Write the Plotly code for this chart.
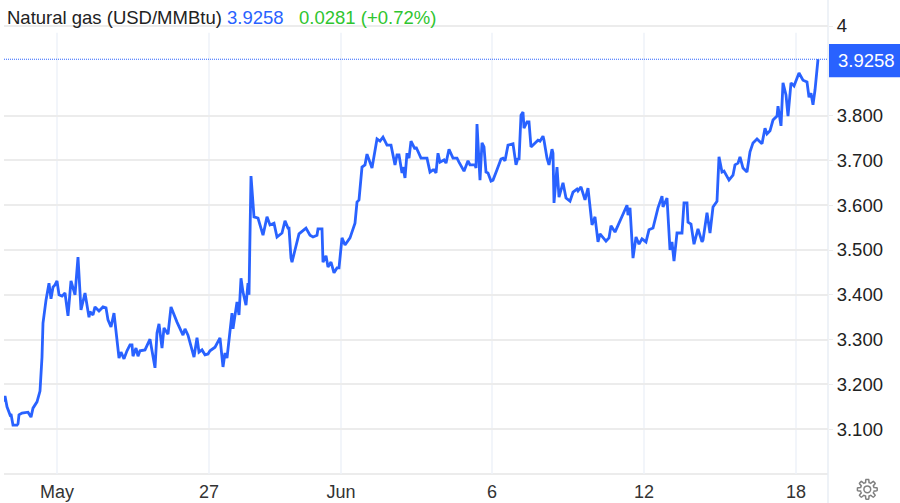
import numpy as np
import plotly.graph_objects as go

title_text = "Natural gas (USD/MMBtu)"
last_price = 3.9258
change_text = "0.0281 (+0.72%)"

time_step = [4,5,7,10,11,13,17,18,19,22,28,31,33,37,40,42,43,46,49,51,53,55,57,59,62,65,68,71,75,78,81,85,89,90,93,95,99,103,106,108,111,114,119,
121,124,127,130,132,133,136,138,140,145,150,155,157,159,162,164,168,171,174,177,183,185,188,194,197,199,202,205,208,210,215,220,223,225,227,232,233,237,239,241,243,246,248,249,
251,254,258,263,267,270,274,277,282,285,288,289,291,292,295,299,306,310,313,317,318,322,323,326,328,331,334,337,339,342,345,350,355,357,359,362,365,367,372,377,380,383,387,391,395,397,399,
402,403,405,407,409,411,415,416,421,427,430,433,434,436,438,440,444,446,449,453,457,459,464,468,470,475,476,477,480,482,484,486,488,491,493,497,501,503,505,508,513,516,518,519,521,523,524,527,529,531,535,538,540,543,544,547,549,552,553,554,557,559,563,566,570,573,577,578,581,585,588,
592,595,598,600,603,606,609,611,615,623,627,628,630,633,636,639,642,646,649,653,657,658,662,663,667,670,672,674,677,682,684,687,688,691,694,698,702,703,707,710,713,717,719,722,724,729,733,735,738,740,743,745,747,750,753,757,762,765,767,770,773,777,778,781,783,786,788,791,794,799,803,807,809,811,813,815,818]

price = [3.161,3.174,3.150,3.132,3.134,3.109,3.109,3.112,3.132,3.136,3.138,3.127,3.147,3.161,3.185,3.261,3.337,3.388,3.426,3.391,3.417,3.422,3.431,3.400,3.397,3.404,3.353,3.431,3.400,3.484,3.366,3.404,3.350,3.362,3.355,3.373,3.364,3.373,3.371,3.344,3.328,3.359,3.259,
3.272,3.257,3.275,3.288,3.288,3.263,3.281,3.263,3.275,3.277,3.301,3.237,3.315,3.335,3.281,3.326,3.312,3.373,3.355,3.339,3.310,3.324,3.310,3.261,3.304,3.272,3.277,3.266,3.268,3.275,3.283,3.304,3.239,3.270,3.259,3.359,3.324,3.384,3.355,3.437,3.406,3.377,3.426,3.400,
3.665,3.574,3.571,3.533,3.574,3.556,3.560,3.529,3.538,3.565,3.549,3.549,3.482,3.473,3.500,3.536,3.549,3.533,3.529,3.533,3.547,3.547,3.473,3.487,3.462,3.473,3.449,3.460,3.460,3.527,3.511,3.527,3.560,3.607,3.612,3.685,3.690,3.714,3.683,3.748,3.743,3.752,3.734,3.734,3.690,3.712,3.712,
3.672,3.685,3.661,3.716,3.705,3.743,3.725,3.730,3.705,3.705,3.674,3.679,3.679,3.672,3.716,3.696,3.701,3.694,3.725,3.705,3.705,3.696,3.676,3.699,3.690,3.690,3.683,3.781,3.656,3.739,3.730,3.674,3.672,3.654,3.656,3.679,3.703,3.705,3.699,3.734,3.737,3.690,3.705,3.701,3.801,3.808,3.772,3.786,3.786,3.730,3.739,3.745,3.743,3.754,3.745,3.705,3.690,3.725,3.716,3.605,3.685,3.618,3.650,3.616,3.609,3.629,3.636,3.632,3.641,3.612,3.638,
3.556,3.574,3.518,3.536,3.527,3.520,3.527,3.554,3.540,3.578,3.600,3.578,3.594,3.482,3.529,3.513,3.525,3.518,3.545,3.549,3.585,3.594,3.620,3.596,3.616,3.500,3.518,3.475,3.538,3.538,3.605,3.605,3.562,3.558,3.513,3.547,3.518,3.522,3.583,3.538,3.596,3.609,3.708,3.674,3.676,3.656,3.667,3.690,3.694,3.708,3.683,3.679,3.674,3.719,3.739,3.748,3.737,3.772,3.759,3.766,3.790,3.799,3.821,3.777,3.873,3.846,3.799,3.873,3.866,3.895,3.879,3.875,3.841,3.850,3.824,3.857,3.9258]

x_tick_vals = [57,209,341,492,644,796]
x_tick_text = ["May","27","Jun","6","12","18"]
y_tick_vals = [3.1,3.2,3.3,3.4,3.5,3.6,3.7,3.8,4.0]
y_tick_text = ["3.100","3.200","3.300","3.400","3.500","3.600","3.700","3.800","4"]

BLUE = "#2962ff"
GRID = "#ececec"
VGRID = "#eef2f8"
FONT = "Liberation Sans, Arial, sans-serif"
W, H, ML, MR, MB = 900, 503, 4, 72, 29
PW, PH = W - ML - MR, H - MB

fig = go.Figure(go.Scatter(x=time_step, y=price, mode="lines",
                           line=dict(color=BLUE, width=2.8, shape="linear"),
                           hoverinfo="skip", showlegend=False))

shapes = [dict(type="line", xref="x", yref="y", x0=v, x1=v, y0=3.0, y1=3.985,
               line=dict(color=VGRID, width=1.5), layer="below") for v in x_tick_vals]
shapes.append(dict(type="line", xref="paper", yref="paper", x0=0, x1=1, y0=0, y1=0,
                   line=dict(color=GRID, width=2), layer="below"))
shapes.append(dict(type="line", xref="paper", yref="paper", x0=1, x1=1, y0=-MB/PH, y1=1,
                   line=dict(color="#e9eef4", width=1.5), layer="below"))
shapes.append(dict(type="line", xref="paper", yref="y", x0=0, x1=1, y0=last_price, y1=last_price,
                   line=dict(color=BLUE, width=1, dash="1px,1px"), layer="above"))
shapes.append(dict(type="rect", xref="paper", yref="y", x0=(829-ML)/PW, x1=(900-ML)/PW,
                   y0=last_price-0.040, y1=last_price+0.034,
                   fillcolor=BLUE, line=dict(width=0), layer="above"))

# settings-gear icon, in page pixels converted to paper space
cx, cy = 867.3, 489.3
ang = np.linspace(0, 2*np.pi, 192, endpoint=False)
rad = 8.4 + 1.5*np.clip(2.6*np.cos(8*ang), -1, 1)
gx = (cx + rad*np.cos(ang) - ML)/PW
gy = (PH - (cy + rad*np.sin(ang)))/PH
path = "M " + " L ".join(f"{a:.5f},{b:.5f}" for a, b in zip(gx, gy)) + " Z"
shapes.append(dict(type="path", xref="paper", yref="paper", path=path,
                   line=dict(color="#808080", width=1.5), fillcolor="rgba(0,0,0,0)"))
shapes.append(dict(type="circle", xref="paper", yref="paper",
                   x0=(cx-3.4-ML)/PW, x1=(cx+3.4-ML)/PW,
                   y0=(PH-cy-3.4)/PH, y1=(PH-cy+3.4)/PH,
                   line=dict(color="#808080", width=1.5)))

annotations = [
    dict(xref="paper", yref="paper", x=(5-ML)/PW, y=(PH-18)/PH, xanchor="left", yanchor="middle",
         showarrow=False, align="left", font=dict(family=FONT, size=18.5, color="#222222"),
         text=f'{title_text} <span style="color:{BLUE}">{last_price}</span>'
              f'  <span style="color:#2fc52f"> {change_text}</span>'),
    dict(xref="paper", yref="y", x=(866-ML)/PW, y=last_price-0.003, xanchor="center", yanchor="middle",
         showarrow=False, font=dict(family=FONT, size=18.5, color="white"), text=f"{last_price}"),
]

fig.update_layout(
    width=W, height=H, autosize=False,
    margin=dict(l=ML, r=MR, t=0, b=MB, autoexpand=False),
    paper_bgcolor="white", plot_bgcolor="white",
    font=dict(family=FONT, size=18.5, color="#222222"),
    shapes=shapes, annotations=annotations,
    xaxis=dict(range=[4, 828], tickmode="array", tickvals=x_tick_vals, ticktext=x_tick_text,
               showgrid=False, zeroline=False, showline=False,
               ticks="outside", ticklen=1, tickcolor="rgba(0,0,0,0)",
               tickfont=dict(family=FONT, size=18, color="#333333")),
    yaxis=dict(range=[3.0, 3.0 + PH/448], side="right", tickmode="array",
               tickvals=y_tick_vals, ticktext=y_tick_text,
               showgrid=True, gridcolor=GRID, gridwidth=1.5, zeroline=False, showline=False,
               ticks="outside", ticklen=4, tickcolor=GRID,
               tickfont=dict(family=FONT, size=18.5, color="#222222")),
)

fig.write_html("out.html", config={"displayModeBar": False},
               post_script="document.body.style.margin='0';")
